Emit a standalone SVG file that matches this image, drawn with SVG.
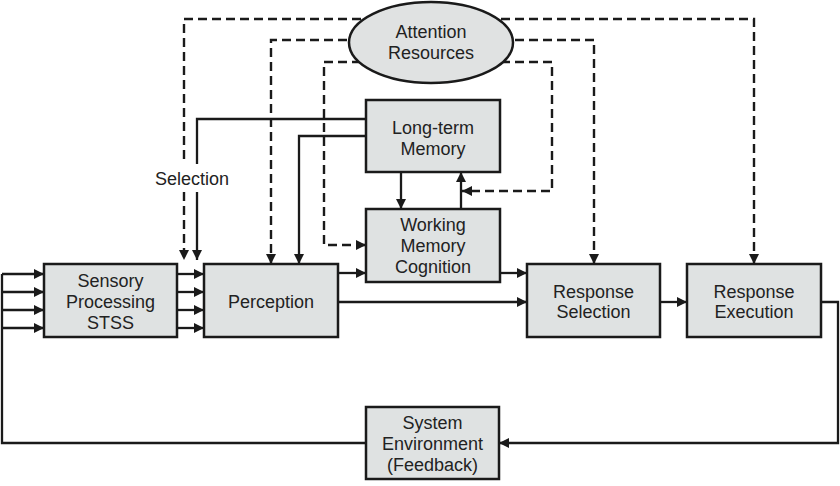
<svg xmlns="http://www.w3.org/2000/svg" width="840" height="486" viewBox="0 0 840 486">
<defs>
<style>
.box{fill:#dfe2e2;stroke:#1a1a1a;stroke-width:2.5}
.ell{fill:#e0e2e2;stroke:#1a1a1a;stroke-width:2.5}
.t{font-family:"Liberation Sans",Arial,sans-serif;font-size:18px;fill:#222;text-anchor:middle}
.s{fill:none;stroke:#1a1a1a;stroke-width:2.3}
.d{fill:none;stroke:#1a1a1a;stroke-width:2.4;stroke-dasharray:9 5}
</style>
<marker id="ah" viewBox="0 0 10 10" refX="10" refY="5" markerWidth="11" markerHeight="10" markerUnits="userSpaceOnUse" orient="auto">
<path d="M0,0 L10,5 L0,10 z" fill="#1a1a1a"/>
</marker>
</defs>
<rect width="840" height="486" fill="#ffffff"/>
<g id="connectors">
<path class="d" d="M431,19 H184 V164"/>
<path class="d" d="M184,192 V260" marker-end="url(#ah)"/>
<path class="d" d="M431,19 H754 V264" marker-end="url(#ah)"/>
<path class="d" d="M431,40 H271 V264" marker-end="url(#ah)"/>
<path class="d" d="M431,40 H594 V264" marker-end="url(#ah)"/>
<path class="d" d="M431,62 H324 V245 H366" marker-end="url(#ah)"/>
<path class="d" d="M431,62 H552 V191 H462" marker-end="url(#ah)"/>
<path class="s" d="M366,119 H197 V164"/>
<path class="s" d="M197,192 V260" marker-end="url(#ah)"/>
<path class="s" d="M366,136 H299 V264" marker-end="url(#ah)"/>
<path class="s" d="M401,172 V209" marker-end="url(#ah)"/>
<path class="s" d="M461,209 V172" marker-end="url(#ah)"/>
<path class="s" d="M338,273 H366" marker-end="url(#ah)"/>
<path class="s" d="M338,302 H527" marker-end="url(#ah)"/>
<path class="s" d="M500,273 H527" marker-end="url(#ah)"/>
<path class="s" d="M660,302 H687" marker-end="url(#ah)"/>
<path class="s" d="M821,302 H838 V443 H499" marker-end="url(#ah)"/>
<path class="s" d="M366,443 H2 V274"/>
<path class="s" d="M2,274 H44" marker-end="url(#ah)"/>
<path class="s" d="M2,292 H44" marker-end="url(#ah)"/>
<path class="s" d="M2,310 H44" marker-end="url(#ah)"/>
<path class="s" d="M2,328 H44" marker-end="url(#ah)"/>
<path class="s" d="M177,274 H204" marker-end="url(#ah)"/>
<path class="s" d="M177,292 H204" marker-end="url(#ah)"/>
<path class="s" d="M177,310 H204" marker-end="url(#ah)"/>
<path class="s" d="M177,328 H204" marker-end="url(#ah)"/>
<text class="t" x="192" y="185">Selection</text>
</g>
<g id="attention">
<ellipse class="ell" cx="431" cy="42.5" rx="82" ry="40.5"/>
<text class="t" x="431" y="38">Attention</text>
<text class="t" x="431" y="59">Resources</text>
</g>
<g id="ltm">
<rect class="box" x="366" y="100" width="134" height="72"/>
<text class="t" x="433" y="133.5">Long-term</text>
<text class="t" x="433" y="155">Memory</text>
</g>
<g id="wm">
<rect class="box" x="366" y="209" width="134" height="73"/>
<text class="t" x="433" y="231">Working</text>
<text class="t" x="433" y="252">Memory</text>
<text class="t" x="433" y="273">Cognition</text>
</g>
<g id="sensory">
<rect class="box" x="44" y="264" width="133" height="73"/>
<text class="t" x="110.5" y="287">Sensory</text>
<text class="t" x="110.5" y="308">Processing</text>
<text class="t" x="110.5" y="329">STSS</text>
</g>
<g id="perception">
<rect class="box" x="204" y="264" width="134" height="73"/>
<text class="t" x="271" y="308">Perception</text>
</g>
<g id="response-selection">
<rect class="box" x="527" y="264" width="133" height="73"/>
<text class="t" x="593.5" y="298">Response</text>
<text class="t" x="593.5" y="318">Selection</text>
</g>
<g id="response-execution">
<rect class="box" x="687" y="264" width="134" height="73"/>
<text class="t" x="754" y="298">Response</text>
<text class="t" x="754" y="318">Execution</text>
</g>
<g id="system-environment">
<rect class="box" x="366" y="407" width="133" height="72"/>
<text class="t" x="432.5" y="429">System</text>
<text class="t" x="432.5" y="450">Environment</text>
<text class="t" x="432.5" y="471">(Feedback)</text>
</g>
</svg>
